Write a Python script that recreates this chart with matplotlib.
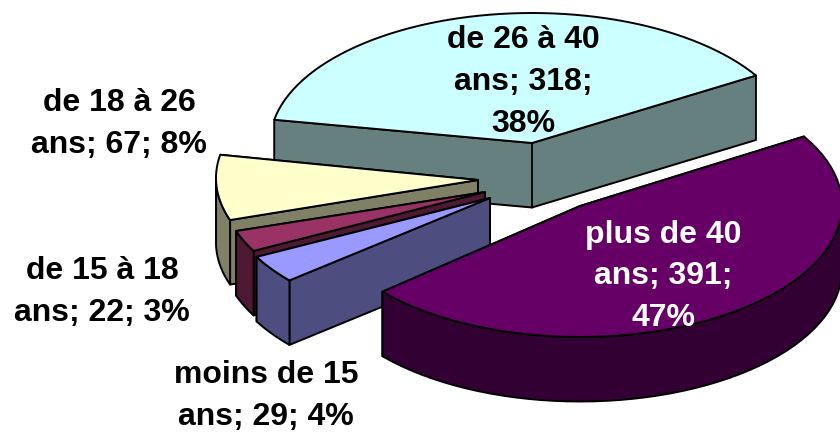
import numpy as np
import matplotlib
matplotlib.use('Agg')
import matplotlib.pyplot as plt
from matplotlib.patches import Polygon

# Data, in drawing order of the pie (clockwise from start_angle)
categories = ['de 26 à 40 ans', 'plus de 40 ans', 'moins de 15 ans', 'de 15 à 18 ans', 'de 18 à 26 ans']
values = [318, 391, 29, 22, 67]
wrapped = [
    'de 26 à 40\nans; {v};\n{p}%',
    'plus de 40\nans; {v};\n{p}%',
    'moins de 15\nans; {v}; {p}%',
    'de 15 à 18\nans; {v}; {p}%',
    'de 18 à 26\nans; {v}; {p}%',
]

# Style
top_colors = ['#CCFFFF', '#660066', '#9999FF', '#993366', '#FFFFCC']
side_colors = ['#668080', '#330033', '#4D4D80', '#4D1933', '#808066']
text_colors = ['black', 'white', 'black', 'black', 'black']
rim_centers = [(532, 143), (580, 205), (487, 195), (484, 189), (478, 178)]
apexes = [(532, 143), (580, 206), (490, 198), (485, 192), (478, 180)]
radii_y = [130, 132, 130, 130, 130]
label_pos = [(523, 82), (663, 276), (266, 396), (102, 292), (119, 124)]
draw_order = [0, 4, 3, 2, 1]
rx = 262
depth = 64.5
start_angle = 169.7

plt.rcParams['font.family'] = ['Liberation Sans', 'DejaVu Sans']

fig = plt.figure(figsize=(8.4, 4.32), dpi=100)
ax = fig.add_axes([0, 0, 1, 1])
ax.set_xlim(0, 840)
ax.set_ylim(432, 0)
ax.axis('off')


def rim(center, ry, a0, a1, n=60):
    # points on the ellipse from angle a0 to a1 (degrees)
    t = np.radians(np.linspace(a0, a1, n))
    return np.column_stack([center[0] + rx * np.cos(t), center[1] - ry * np.sin(t)])


def draw_face(pts, color):
    ax.add_patch(Polygon(pts, closed=True, facecolor=color, edgecolor='black',
                         linewidth=1.4, joinstyle='round'))


def extrude(edge):
    # top edge plus the same edge moved down by the depth
    low = edge[::-1] + np.array([0, depth])
    return np.vstack([edge, low])


total = sum(values)
spans = np.array(values) / total * 360
ends = start_angle - np.cumsum(spans)
starts = ends + spans

for i in draw_order:
    a0, a1 = starts[i], ends[i]
    arc = rim(rim_centers[i], radii_y[i], a0, a1)
    apex = np.array([apexes[i]], dtype=float)

    # radial walls, the one further back first
    walls = sorted([arc[0], arc[-1]], key=lambda p: p[1])
    for p in walls:
        draw_face(extrude(np.vstack([apex, [p]])), side_colors[i])

    # outer wall, only the part of the rim facing the viewer
    k = np.sin(np.radians(np.linspace(a0, a1, len(arc)))) <= 0
    if k.sum() > 1:
        draw_face(extrude(arc[k]), side_colors[i])

    draw_face(np.vstack([apex, arc]), top_colors[i])

for i in range(len(values)):
    pct = round(values[i] / total * 100)
    ax.text(label_pos[i][0], label_pos[i][1], wrapped[i].format(v=values[i], p=pct),
            ha='center', va='center', ma='center', fontsize=23, fontweight='bold',
            color=text_colors[i], linespacing=1.5)

fig.savefig('out.png', dpi=100)
